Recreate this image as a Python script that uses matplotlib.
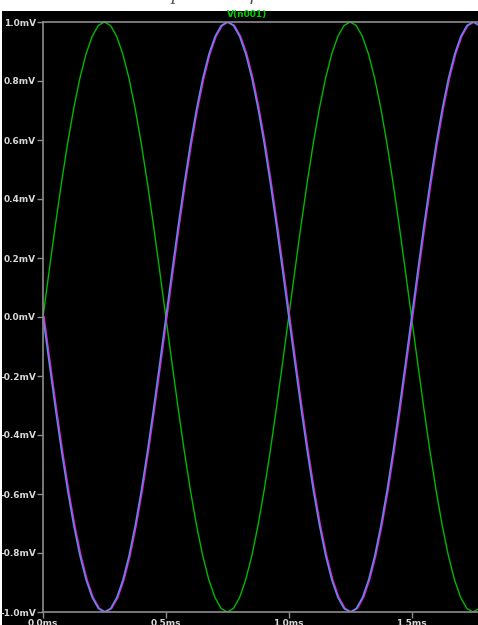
import numpy as np
import matplotlib.pyplot as plt
from matplotlib.patches import Rectangle

# simulation time grid (ms), step 0.025 ms
time_ms = np.linspace(0.0, 1.775, 72)

# V(n001), mV
v_green = [0.0, 0.156, 0.309, 0.454, 0.588, 0.707, 0.809, 0.891, 0.951, 0.988,
           1.0, 0.988, 0.951, 0.891, 0.809, 0.707, 0.588, 0.454, 0.309, 0.156,
           0.0, -0.156, -0.309, -0.454, -0.588, -0.707, -0.809, -0.891, -0.951, -0.988,
           -1.0, -0.988, -0.951, -0.891, -0.809, -0.707, -0.588, -0.454, -0.309, -0.156,
           0.0, 0.156, 0.309, 0.454, 0.588, 0.707, 0.809, 0.891, 0.951, 0.988,
           1.0, 0.988, 0.951, 0.891, 0.809, 0.707, 0.588, 0.454, 0.309, 0.156,
           0.0, -0.156, -0.309, -0.454, -0.588, -0.707, -0.809, -0.891, -0.951, -0.988,
           -1.0, -0.988]

# inverted trace (blue, with magenta just behind it)
v_blue = [0.0, -0.156, -0.309, -0.454, -0.588, -0.707, -0.809, -0.891, -0.951, -0.988,
          -1.0, -0.988, -0.951, -0.891, -0.809, -0.707, -0.588, -0.454, -0.309, -0.156,
          0.0, 0.156, 0.309, 0.454, 0.588, 0.707, 0.809, 0.891, 0.951, 0.988,
          1.0, 0.988, 0.951, 0.891, 0.809, 0.707, 0.588, 0.454, 0.309, 0.156,
          0.0, -0.156, -0.309, -0.454, -0.588, -0.707, -0.809, -0.891, -0.951, -0.988,
          -1.0, -0.988, -0.951, -0.891, -0.809, -0.707, -0.588, -0.454, -0.309, -0.156,
          0.0, 0.156, 0.309, 0.454, 0.588, 0.707, 0.809, 0.891, 0.951, 0.988,
          1.0, 0.988]
magenta_lag_ms = 0.004

y_ticks = [-1.0, -0.8, -0.6, -0.4, -0.2, 0.0, 0.2, 0.4, 0.6, 0.8, 1.0]
y_labels = ["%.1fmV" % v for v in y_ticks]
x_ticks = [0.0, 0.5, 1.0, 1.5]
x_labels = ["0.0ms", "0.5ms", "1.0ms", "1.5ms"]

W, H = 478, 625
fig = plt.figure(figsize=(W / 100, H / 100), dpi=100)
fig.patch.set_facecolor("white")

# black plot window below the white strip
bg = Rectangle((2 / W, 0), 1, (H - 11) / H, transform=fig.transFigure,
               facecolor="black", edgecolor="none", zorder=-10)
fig.add_artist(bg)

# caption, mostly cut off by the top edge
fig.text(30 / W, 1 + 1 / H, "Inverted sine vs. phase shifted", family="Liberation Serif",
         style="italic", fontsize=15, color="#555555", va="baseline", ha="left")

ax = fig.add_axes([43 / W, 13 / H, 1 - 43 / W + 0.01, (612 - 22) / H])
ax.set_zorder(1)
ax.set_facecolor("black")

ax.plot(time_ms, v_green, color="#00b800", lw=1.0)
ax.plot(time_ms + magenta_lag_ms, v_blue, color="#e020e0", lw=1.2)
ax.plot(time_ms, v_blue, color="#5096e8", lw=1.0)

ax.set_xlim(0, 1.79)
ax.set_ylim(-1.0, 1.0)

ax.set_yticks(y_ticks)
ax.set_yticklabels(y_labels)
ax.set_xticks(x_ticks)
ax.set_xticklabels(x_labels)

for side in ["left", "top", "bottom"]:
    ax.spines[side].set_color("#8c8c8c")
    ax.spines[side].set_linewidth(1.2)
ax.spines["right"].set_visible(False)

ax.tick_params(axis="both", colors="#8c8c8c", length=4, width=1, direction="out", pad=1,
               labelsize=6.5, labelcolor="#d8d8d8")
for lbl in ax.get_xticklabels() + ax.get_yticklabels():
    lbl.set_fontweight("bold")

fig.text(247 / W, 1 - 15 / H, "V(n001)", color="#00d000", fontsize=6.5,
         fontweight="bold", ha="center", va="center", zorder=5)

fig.savefig("out.png", dpi=100, facecolor=fig.get_facecolor())
